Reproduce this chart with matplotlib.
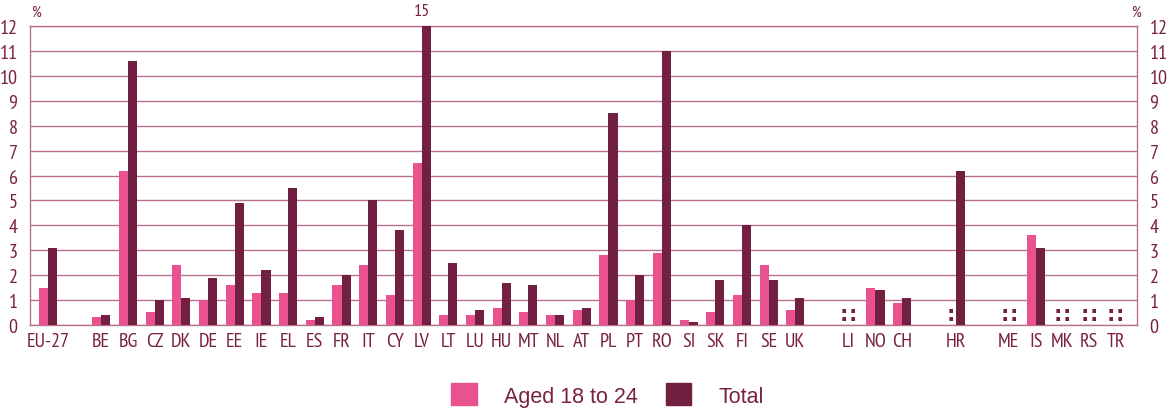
import numpy as np
import matplotlib.pyplot as plt

countries = ["EU-27", "BE", "BG", "CZ", "DK", "DE", "EE", "IE", "EL", "ES", "FR", "IT", "CY",
             "LV", "LT", "LU", "HU", "MT", "NL", "AT", "PL", "PT", "RO", "SI", "SK", "FI", "SE",
             "UK", "LI", "NO", "CH", "HR", "ME", "IS", "MK", "RS", "TR"]
# slot on the x axis (gaps between groups)
slots = [0] + list(range(2, 29)) + [30, 31, 32, 34, 36, 37, 38, 39, 40]

# nan = not available (shown as ":")
aged_18_24 = [1.5, 0.3, 6.2, 0.5, 2.4, 1.0, 1.6, 1.3, 1.3, 0.2, 1.6, 2.4, 1.2,
              6.5, 0.4, 0.4, 0.7, 0.5, 0.4, 0.6, 2.8, 1.0, 2.9, 0.2, 0.5, 1.2, 2.4,
              0.6, np.nan, 1.5, 0.9, np.nan, np.nan, 3.6, np.nan, np.nan, np.nan]
total = [3.1, 0.4, 10.6, 1.0, 1.1, 1.9, 4.9, 2.2, 5.5, 0.3, 2.0, 5.0, 3.8,
         15.0, 2.5, 0.6, 1.7, 1.6, 0.4, 0.7, 8.5, 2.0, 11.0, 0.1, 1.8, 4.0, 1.8,
         1.1, np.nan, 1.4, 1.1, 6.2, np.nan, 3.1, np.nan, np.nan, np.nan]

pink = "#E9528F"
dark = "#722042"
txt = "#7A2140"
grid = "#B8728C"
narrow = ["PT Sans Narrow", "DejaVu Sans"]

x = np.array(slots, dtype=float)
a = np.array(aged_18_24)
t = np.array(total)
w = 0.34
ymax = 12

fig = plt.figure(figsize=(11.68, 4.10), dpi=100)
ax = fig.add_axes([0.0257, 0.205, 0.9478, 0.729])

ax.bar(x - w / 2, np.nan_to_num(a), w, color=pink, zorder=3)
ax.bar(x + w / 2, np.minimum(np.nan_to_num(t), ymax), w, color=dark, zorder=3)

for xi, ai, ti in zip(x, a, t):
    if np.isnan(ai):
        ax.text(xi - w / 2, 0.45, ":", ha="center", va="center", color=dark,
                fontsize=15, fontweight="bold", family="DejaVu Sans")
    if np.isnan(ti):
        ax.text(xi + w / 2, 0.45, ":", ha="center", va="center", color=dark,
                fontsize=15, fontweight="bold", family="DejaVu Sans")
    if ti > ymax:
        ax.text(xi, ymax + 0.3, f"{ti:.0f}", ha="center", va="bottom", color=txt,
                fontsize=13, family=narrow)

ax.set_xlim(-0.67, 40.8)
ax.set_ylim(0, ymax)
ax.set_yticks(range(0, 13))
ax.yaxis.grid(True, color=grid, linewidth=1, zorder=0)
ax.set_axisbelow(True)
ax.set_xticks(x)
ax.set_xticklabels(countries)
ax.tick_params(length=0, colors=txt, labelsize=14.5, pad=5)
ax.tick_params(axis="y", pad=9)
for lab in ax.get_xticklabels() + ax.get_yticklabels():
    lab.set_family(narrow)
for s in ax.spines.values():
    s.set_color(grid)
    s.set_linewidth(1)

ax2 = ax.twinx()
ax2.set_ylim(0, ymax)
ax2.set_yticks(range(0, 13))
ax2.tick_params(length=0, colors=txt, labelsize=14.5, pad=9)
for lab in ax2.get_yticklabels():
    lab.set_family(narrow)
for s in ax2.spines.values():
    s.set_visible(False)

fig.text(0.031, 0.97, "%", color=txt, fontsize=11, ha="center", va="center", family=narrow)
fig.text(0.973, 0.97, "%", color=txt, fontsize=11, ha="center", va="center", family=narrow)

h1 = plt.Rectangle((0, 0), 1, 1, color=pink)
h2 = plt.Rectangle((0, 0), 1, 1, color=dark)
leg = fig.legend([h1, h2], ["Aged 18 to 24", "Total"], loc="center",
                 bbox_to_anchor=(0.52, 0.034), ncol=2, frameon=False,
                 handlelength=1.2, handleheight=1.2, handletextpad=1.25,
                 columnspacing=1.3, prop={"family": "Liberation Sans", "size": 15.5})
for tx in leg.get_texts():
    tx.set_color(txt)

fig.savefig("out.png", dpi=100)
